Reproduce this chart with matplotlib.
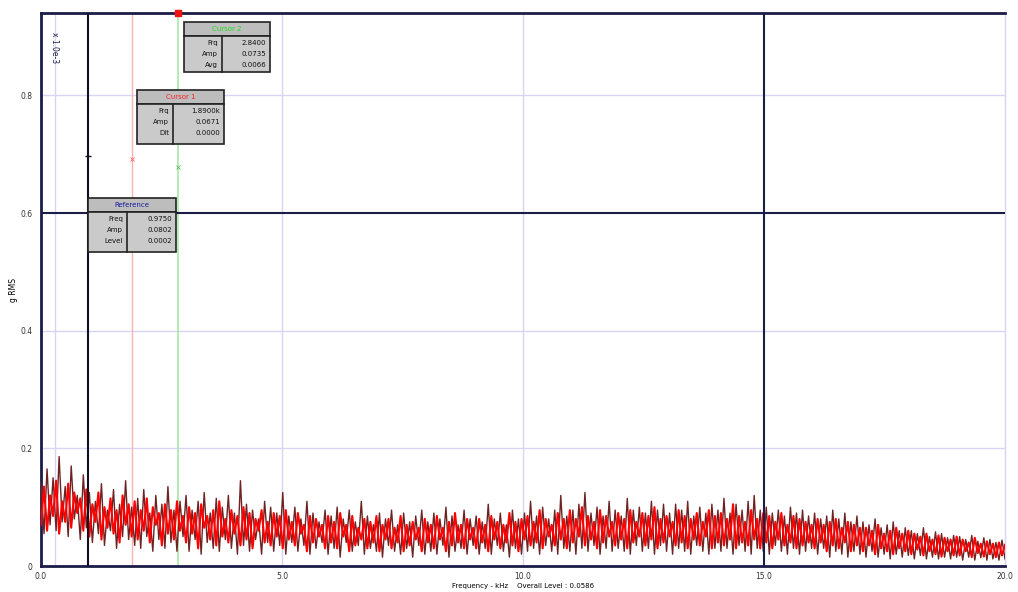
import numpy as np
import matplotlib
matplotlib.use("Agg")
import matplotlib.pyplot as plt
from matplotlib.patches import Rectangle

# spectrum amplitudes in units of 0.001 (g), 0 - 20 kHz
dark_trace = [
    140, 55, 165, 70, 150, 60, 186, 75, 135, 50, 170, 80, 120, 45, 155, 65,
    125, 40, 110, 55, 140, 35, 95, 60, 130, 30, 105, 50, 145, 45, 100, 35,
    115, 30, 130, 50, 90, 25, 120, 45, 105, 30, 135, 40, 95, 25, 110, 50,
    120, 25, 95, 45, 110, 20, 125, 40, 90, 30, 115, 25, 100, 45, 120, 30,
    90, 20, 145, 35, 105, 25, 95, 45, 80, 20, 110, 40, 100, 25, 90, 35,
    125, 20, 85, 40, 100, 25, 80, 35, 110, 20, 90, 30, 75, 40, 95, 20,
    85, 30, 100, 15, 80, 40, 95, 25, 75, 35, 110, 20, 85, 30, 70, 25,
    90, 15, 80, 35, 95, 25, 70, 20, 90, 30, 75, 15, 85, 35, 95, 20,
    75, 25, 90, 20, 80, 35, 100, 15, 85, 25, 70, 30, 95, 20, 80, 35,
    85, 20, 75, 30, 105, 20, 80, 35, 90, 25, 70, 15, 95, 30, 80, 20,
    90, 25, 110, 30, 85, 20, 100, 35, 80, 25, 95, 20, 120, 30, 85, 25,
    95, 20, 105, 30, 125, 25, 90, 35, 100, 20, 85, 30, 110, 25, 95, 30,
    85, 25, 115, 20, 95, 35, 100, 25, 90, 30, 110, 20, 95, 35, 105, 25,
    90, 20, 105, 30, 95, 25, 110, 20, 85, 35, 100, 25, 90, 20, 105, 30,
    95, 25, 115, 30, 90, 20, 105, 35, 95, 25, 110, 20, 120, 30, 95, 25,
    100, 20, 90, 35, 95, 25, 85, 20, 100, 30, 90, 20, 95, 25, 85, 30,
    90, 20, 80, 30, 85, 15, 95, 25, 80, 20, 90, 15, 75, 25, 85, 20,
    75, 15, 70, 25, 80, 15, 65, 20, 70, 12, 75, 20, 60, 15, 65, 18,
    60, 12, 55, 18, 65, 12, 50, 15, 58, 12, 55, 15, 48, 12, 52, 15,
    50, 10, 45, 15, 52, 10, 42, 14, 48, 10, 45, 12, 40, 10, 44, 12,
]

red_trace = [
    70, 135, 60, 120, 85, 145, 55, 110, 75, 140, 65, 125, 90, 115, 60, 130,
    50, 105, 75, 125, 45, 100, 65, 115, 55, 95, 40, 120, 70, 105, 50, 110,
    45, 95, 60, 115, 40, 100, 70, 90, 35, 105, 55, 95, 45, 110, 60, 85,
    40, 100, 55, 90, 30, 105, 65, 85, 45, 95, 35, 110, 50, 80, 40, 95,
    55, 85, 35, 100, 45, 90, 30, 80, 60, 95, 40, 75, 35, 90, 50, 85,
    30, 95, 45, 75, 35, 90, 55, 70, 25, 85, 40, 80, 50, 70, 30, 85,
    40, 75, 30, 90, 50, 70, 25, 85, 35, 65, 45, 80, 30, 75, 40, 85,
    25, 70, 45, 80, 30, 65, 40, 85, 25, 70, 35, 75, 45, 65, 25, 80,
    40, 70, 30, 85, 45, 65, 25, 75, 35, 90, 40, 70, 30, 80, 45, 65,
    30, 80, 40, 70, 25, 85, 45, 75, 30, 70, 40, 90, 35, 75, 25, 80,
    45, 85, 35, 75, 40, 95, 30, 80, 50, 70, 35, 90, 45, 80, 30, 95,
    40, 80, 50, 100, 35, 85, 45, 75, 30, 95, 40, 85, 50, 75, 35, 90,
    45, 80, 30, 95, 40, 75, 50, 90, 35, 85, 45, 100, 30, 80, 40, 85,
    50, 75, 35, 95, 40, 85, 30, 80, 45, 90, 35, 75, 50, 95, 30, 85,
    40, 90, 35, 80, 45, 105, 30, 85, 40, 75, 35, 95, 45, 80, 30, 90,
    40, 85, 30, 75, 45, 90, 35, 70, 40, 85, 30, 80, 35, 75, 40, 70,
    30, 80, 40, 70, 25, 75, 35, 80, 30, 65, 40, 75, 25, 70, 35, 65,
    25, 65, 35, 60, 20, 70, 30, 55, 25, 60, 20, 65, 30, 55, 25, 60,
    20, 55, 28, 50, 18, 55, 25, 45, 20, 52, 16, 48, 25, 45, 18, 50,
    18, 45, 25, 40, 15, 48, 22, 38, 16, 42, 20, 38, 15, 40, 18, 36,
]

x_ticks = [0, 5, 10, 15, 20]
x_tick_labels = ["0.0", "5.0", "10.0", "15.0", "20.0"]
y_ticks = [0, 0.2, 0.4, 0.6, 0.8]
y_tick_labels = ["0", "0.2", "0.4", "0.6", "0.8"]

# cursors: name, frequency kHz, colour, rows shown in its readout box
ref_cursor = 0.975
cursor_1 = 1.890
cursor_2 = 2.840
cursor_rows = [
    ("Reference", ref_cursor, "#1a1aa0", [("Freq", "0.9750"), ("Amp", "0.0802"), ("Level", "0.0002")]),
    ("Cursor 1", cursor_1, "#ff2020", [("Frq", "1.8900k"), ("Amp", "0.0671"), ("Dlt", "0.0000")]),
    ("Cursor 2", cursor_2, "#20e020", [("Frq", "2.8400"), ("Amp", "0.0735"), ("Avg", "0.0066")]),
]

fig = plt.figure(figsize=(10.18, 5.92), dpi=100)
ax = fig.add_axes([41 / 1018, 26 / 592, 964 / 1018, 553 / 592])

navy = "#1c1c48"
lav = "#d6d6f4"

freq_dark = np.linspace(0, 20, len(dark_trace))
freq_red = np.linspace(0, 20, len(red_trace))
ax.plot(freq_dark, np.array(dark_trace) / 1000, color="#6e2222", lw=1.0, zorder=3)
ax.plot(freq_red, np.array(red_trace) / 1000, color="#ff0000", lw=1.5, zorder=4)

ax.set_xlim(0, 20)
ax.set_ylim(0, 0.94)
ax.set_xticks(x_ticks)
ax.set_xticklabels(x_tick_labels)
ax.set_yticks(y_ticks)
ax.set_yticklabels(y_tick_labels)
ax.tick_params(axis="x", length=0, labelsize=5.5, colors="#333333", pad=4)
ax.tick_params(axis="y", length=0, labelsize=5.5, colors="#333333", pad=6)

# light grid, with the 15 kHz / 0.6 divisions in dark
for xv in (5, 10):
    ax.axvline(xv, color=lav, lw=1, zorder=1)
for yv in (0.2, 0.4, 0.8):
    ax.axhline(yv, color=lav, lw=1, zorder=1)
ax.axvline(15, color=navy, lw=1.5, zorder=5)
ax.axhline(0.6, color=navy, lw=1.5, zorder=5)
ax.axvline(0.29, color=lav, lw=1, zorder=1)

for side in ("top", "bottom", "left"):
    ax.spines[side].set_color(navy)
    ax.spines[side].set_linewidth(2)
ax.spines["right"].set_color(lav)
ax.spines["right"].set_linewidth(1)

# cursor lines
ax.axvline(ref_cursor, color="#111122", lw=1.5, zorder=6)
ax.axvline(cursor_1, color="#ffb0b0", lw=1, zorder=2)
ax.axvline(cursor_2, color="#a8e8a8", lw=1.2, zorder=2)
ax.plot([ref_cursor], [0.697], marker="_", color="#111122", ms=5, zorder=7)
ax.plot([cursor_1], [0.692], marker="x", color="#ff6060", ms=3, mew=0.6, zorder=7)
ax.plot([cursor_2], [0.678], marker="x", color="#60c060", ms=3, mew=0.6, zorder=7)
ax.plot([cursor_2], [0.94], marker="s", color="#ee1111", ms=5, clip_on=False, zorder=8)

ax.text(0.014, 0.965, "x 1.0e-3", transform=ax.transAxes, rotation=-90,
        fontsize=5.5, color=navy, ha="center", va="top")

ax.set_xlabel("Frequency - kHz    Overall Level : 0.0586", fontsize=5, labelpad=2)
ax.set_ylabel("g RMS", fontsize=5.5, labelpad=2)

# readout boxes, sizes in pixels
AX_W, AX_H = 964.0, 553.0
box_geom = [  # x offset px from cursor, top px below axes top, width, column split, body height
    (0, 185, 88, 39, 40),
    (5, 77, 87, 36, 40),
    (6, 9, 86, 38, 36),
]


def draw_box(name, fx, color, rows, geom):
    dx, top, w, split, bh = geom
    th = 14
    x0 = fx / 20 + dx / AX_W
    y_top = 1 - top / AX_H
    W = w / AX_W
    kw = dict(transform=ax.transAxes, zorder=10, clip_on=False)
    ax.add_patch(Rectangle((x0, y_top - th / AX_H), W, th / AX_H,
                           facecolor="#bdbdbd", edgecolor="#222222", lw=1.2, **kw))
    ax.add_patch(Rectangle((x0, y_top - (th + bh) / AX_H), W, bh / AX_H,
                           facecolor="#cacaca", edgecolor="#222222", lw=1.2, **kw))
    ax.plot([x0 + split / AX_W] * 2, [y_top - th / AX_H, y_top - (th + bh) / AX_H],
            color="#222222", lw=1.2, transform=ax.transAxes, zorder=11, clip_on=False)
    ax.text(x0 + W / 2, y_top - th / 2 / AX_H, name, color=color, fontsize=5,
            ha="center", va="center", transform=ax.transAxes, zorder=12)
    for k, (lab, val) in enumerate(rows):
        yy = y_top - (th + 7 + k * 11) / AX_H
        ax.text(x0 + (split - 4) / AX_W, yy, lab, fontsize=5, ha="right", va="center",
                transform=ax.transAxes, zorder=12, color="#111111")
        ax.text(x0 + (w - 4) / AX_W, yy, val, fontsize=5, ha="right", va="center",
                transform=ax.transAxes, zorder=12, color="#111111")


for (name, fx, color, rows), geom in zip(cursor_rows, box_geom):
    draw_box(name, fx, color, rows, geom)

fig.savefig("out.png", dpi=100)
